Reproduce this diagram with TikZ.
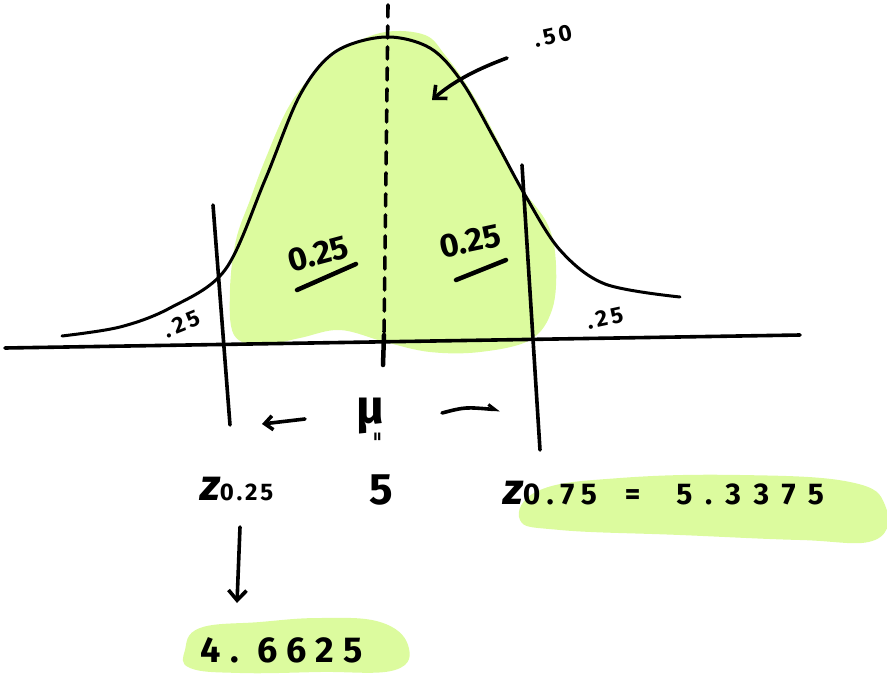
\documentclass[tikz,border=0pt]{standalone}
\usepackage{fontspec}
\setmainfont{Fira Sans}
\usetikzlibrary{arrows.meta}
\definecolor{hl}{RGB}{220,251,158}
\tikzset{
  ink/.style={line width=3.6pt, line cap=round, line join=round, black},
  lbl/.style={font=\bfseries\fontsize{33}{35}\selectfont, inner sep=0pt},
  small lbl/.style={font=\bfseries\fontsize{23}{25}\selectfont\addfontfeature{LetterSpace=15}, inner sep=0pt},
  hand arrow/.style={ink, -{Straight Barb[length=10pt,width=18pt,line width=3.6pt]}},
}
\begin{document}
\begin{tikzpicture}[x=1pt,y=-1pt]
\useasboundingbox (0,0) rectangle (887,680);
% green highlight under curve
\fill[hl] plot[smooth cycle, tension=0.6] coordinates {
 (234,335) (230,290) (236,240) (250,200) (265,160) (288,108) (315,72) (345,48) (385,32)
 (425,35) (445,55) (470,90) (495,135) (520,185) (548,225) (556,265) (552,310) (530,340)
 (480,352) (430,352) (385,342) (340,330) (300,338) (262,345)};
% green highlights for answers
\fill[hl] plot[smooth cycle, tension=0.7] coordinates {
 (520,520) (540,490) (620,478) (740,475) (850,482) (885,505) (875,540) (800,540) (680,535) (560,530)};
\fill[hl] plot[smooth cycle, tension=0.7] coordinates {
 (185,650) (200,628) (260,622) (320,618) (380,622) (408,645) (395,670) (320,672) (240,673) (190,668)};
% axis
\coordinate (ax0) at (5,348);
\coordinate (ax1) at (800,335);
\draw[ink] (ax0) -- (ax1);
% normal curve
\draw[ink, line width=3pt] plot[smooth, tension=0.55] coordinates {
 (62,336) (120,327) (170,308) (225,270) (265,180) (300,95) (335,52) (385,37) (430,48) (462,82)
 (495,140) (525,195) (560,250) (605,284) (680,297)};
% vertical lines
\coordinate (l0) at (213,205); \coordinate (l1) at (230,425);
\coordinate (r0) at (522,165); \coordinate (r1) at (540,450);
\draw[ink] (l0) -- (l1);
\draw[ink] (r0) -- (r1);
% dashed centre line
\coordinate (c0) at (388,5); \coordinate (c1) at (384,335); \coordinate (c2) at (383,365);
\draw[ink, dash pattern=on 12pt off 9pt] (c0) -- (c1);
\draw[ink, line width=4.5pt] (c1) -- (c2);
% inner labels
\node[lbl, rotate=15] (q1) at (318,254) {0.25};
\draw[ink, line width=4.5pt] (297,290) -- (356,264);
\node[lbl, rotate=12] (q2) at (470,241) {0.25};
\draw[ink, line width=4.5pt] (456,280) -- (506,260);
% tail labels
\node[small lbl, rotate=22] (t1) at (182,324) {.25};
\node[small lbl, rotate=12] (t2) at (605,318) {.25};
% .50 with arrow
\node[small lbl, rotate=12] (half) at (553,36) {.50};
\coordinate (ha) at (507,58);
\coordinate (hb) at (432,100);
\draw[hand arrow] (ha) .. controls (480,68) and (455,80) .. (hb);
% mu row
\node[inner sep=0pt, font=\bfseries\fontsize{48}{50}\selectfont] (mu) at (370,416) {μ};
\coordinate (la0) at (305,419); \coordinate (la1) at (262,424);
\draw[ink, -{Straight Barb[length=8pt,width=14pt,line width=3.6pt]}] (la0) -- (la1);
\coordinate (ra0) at (442,413); \coordinate (ra1) at (500,410);
\draw[ink, -{Straight Barb[length=7pt,width=9pt,line width=3pt,left]}] (ra0) .. controls (465,407) .. (ra1);
\node[font=\bfseries\fontsize{18}{18}\selectfont, rotate=90, inner sep=0pt] (eq) at (379,437) {=};
\node[inner sep=0pt, font=\bfseries\fontsize{44}{46}\selectfont] (five) at (381,490) {5};
% z labels
\node[inner sep=0pt, anchor=west] (z1) at (200,489) {\bfseries\itshape\fontsize{44}{46}\selectfont z\upshape\fontsize{24}{26}\selectfont\addfontfeature{LetterSpace=12}0.25};
\node[inner sep=0pt, anchor=west] (z2) at (503,493) {\bfseries\itshape\fontsize{44}{46}\selectfont z\upshape\fontsize{30}{32}\selectfont\addfontfeature{LetterSpace=22}0.75\hspace{28pt}=\hspace{36pt}\addfontfeature{LetterSpace=42}5.3375};
\coordinate (da0) at (240,527);
\coordinate (da1) at (237,603);
\draw[hand arrow] (da0) -- (da1);
\node[inner sep=0pt, font=\bfseries\fontsize{36}{38}\selectfont\addfontfeature{LetterSpace=26}] (ans) at (282,650) {4.\ 6625};
\end{tikzpicture}
\end{document}
